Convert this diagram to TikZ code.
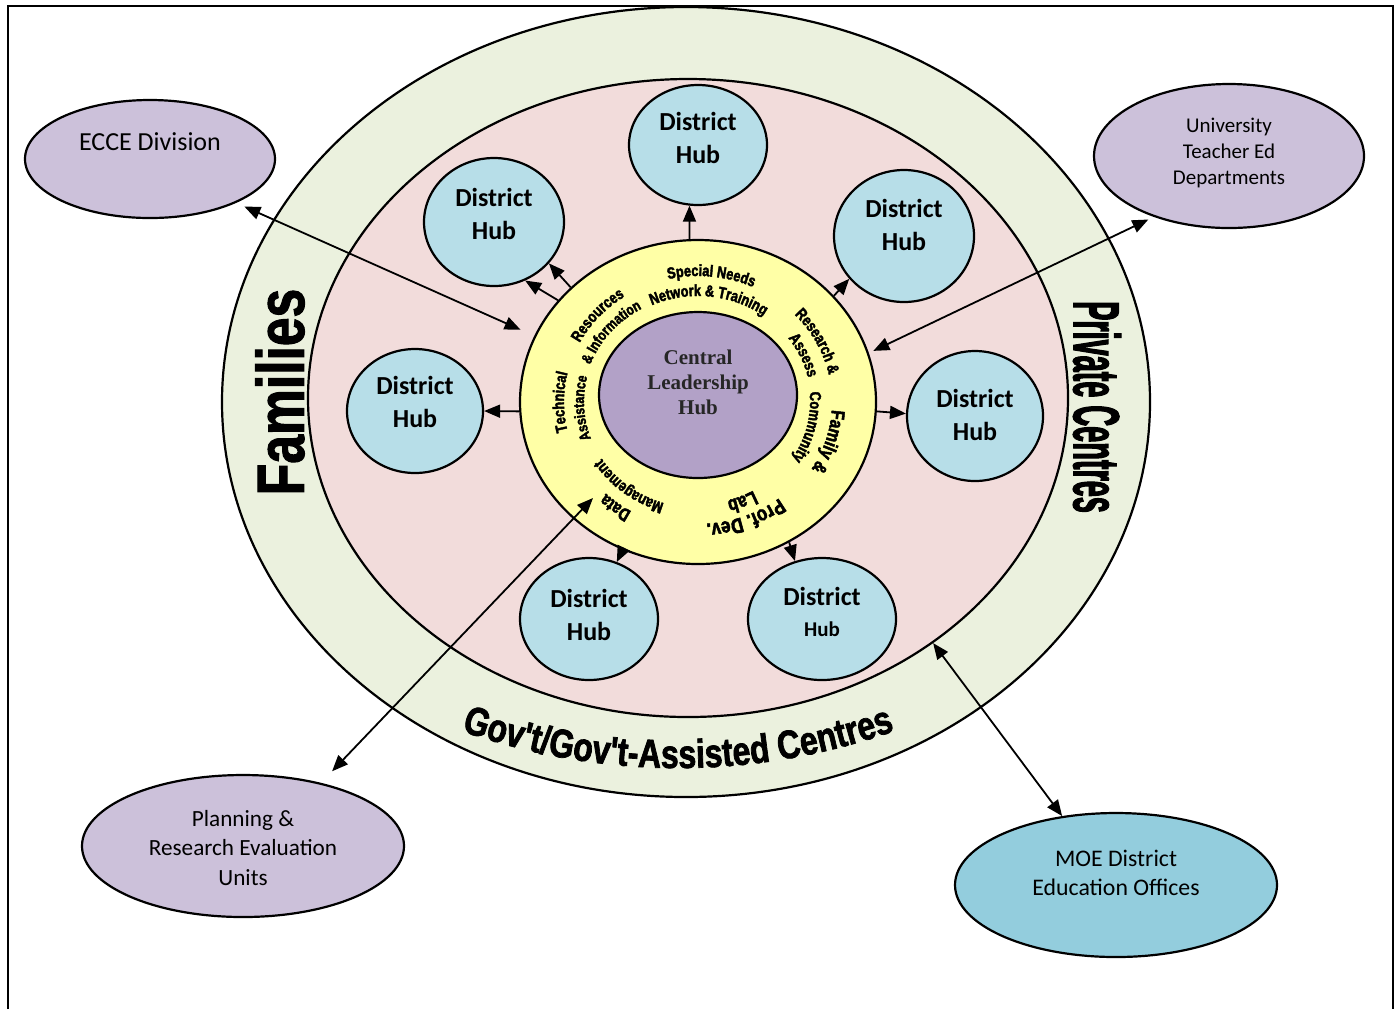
\documentclass[tikz,border=0pt]{standalone}
\usepackage{fontspec}
\setmainfont{Carlito}
\newfontfamily\serifb{Liberation Serif}
\newfontfamily\ringfont[FakeStretch=0.8,FakeBold=2.5]{Liberation Sans Bold}
\newfontfamily\famfont[FakeStretch=0.77,FakeBold=1.5]{Liberation Sans Bold}
\newfontfamily\privfont[FakeStretch=0.44,FakeBold=1.5]{Liberation Sans Bold}
\newfontfamily\govfont[FakeStretch=0.8,FakeBold=1.8]{Liberation Sans Bold}
\usetikzlibrary{shapes.geometric,arrows.meta,decorations.text}
\definecolor{greenring}{HTML}{EBF1DE}
\definecolor{pinkring}{HTML}{F2DCDB}
\definecolor{yellowring}{HTML}{FFFFA6}
\definecolor{centralc}{HTML}{B2A1C7}
\definecolor{hubc}{HTML}{B7DEE8}
\definecolor{lilac}{HTML}{CCC1DA}
\definecolor{moec}{HTML}{93CDDD}
\newcommand\ringtext[5]{%
  \path[decorate,decoration={text along path,text align=center,
     text={|\ringfont\fontsize{#4}{#4}\selectfont|#5}}]
   (698,402) ++({-(#1)-70}:#2 and #3)
   arc[start angle={-(#1)-70}, end angle={-(#1)+70}, x radius=#2, y radius=#3];}
\tikzset{
  ell/.style={ellipse, draw, line width=1.1pt, inner sep=0pt},
  hub/.style={ell, fill=hubc},
  hubtext/.style={font=\fontsize{13}{16.5}\selectfont\bfseries, align=center, inner sep=0pt},
  arr/.style={-{Triangle[length=8pt,width=6.5pt]}, line width=0.9pt},
  darr/.style={{Triangle[length=8pt,width=6.5pt]}-{Triangle[length=8pt,width=6.5pt]}, line width=0.9pt}
}
\begin{document}
\begin{tikzpicture}[x=0.5pt,y=-0.5pt]
\useasboundingbox (0,0) rectangle (1400,1009);
\draw[line width=1pt] (8,1009) -- (8,6) -- (1393,6) -- (1393,1009);

% rings
\node[ell, fill=greenring, minimum width=464pt, minimum height=395pt] (green) at (686,402) {};
\node[ell, fill=pinkring, minimum width=380pt, minimum height=319pt] (pink) at (688,398) {};
\node[ell, fill=yellowring, minimum width=178pt, minimum height=162pt] (ring) at (698,402) {};
\node[ell, fill=centralc, minimum width=99pt, minimum height=83pt] (central) at (698,395) {};
\node[font=\serifb\bfseries\fontsize{10.5}{12.5}\selectfont, text=black!85, align=center, inner sep=0pt] (centralt) at (698,382) {Central\\Leadership\\Hub};

% hubs
\node[hub, minimum width=69pt, minimum height=60pt] (h1) at (698,145) {};
\node[hub, minimum width=70pt, minimum height=64pt] (h2) at (494,222) {};
\node[hub, minimum width=70pt, minimum height=66pt] (h3) at (904,236) {};
\node[hub, minimum width=68pt, minimum height=62pt] (h4) at (415,411) {};
\node[hub, minimum width=68pt, minimum height=65pt] (h5) at (975,416) {};
\node[hub, minimum width=69pt, minimum height=61pt] (h6) at (589,619) {};
\node[hub, minimum width=74pt, minimum height=61pt] (h7) at (822,619) {};
\node[hubtext] (h1t) at (698,137.5) {District\\Hub};
\node[hubtext] (h2t) at (494,214) {District\\Hub};
\node[hubtext] (h3t) at (904,224.5) {District\\Hub};
\node[hubtext] (h4t) at (415,402) {District\\Hub};
\node[hubtext] (h5t) at (975,415) {District\\Hub};
\node[hubtext] (h6t) at (589,614.5) {District\\Hub};
\node[hubtext] (h7t) at (822,611.5) {District\\[-1pt]{\fontsize{10.5}{13}\selectfont Hub}};

% outer partners
\node[ell, fill=lilac, minimum width=125pt, minimum height=59pt] (ecce) at (150,159) {};
\node[ell, fill=lilac, minimum width=135pt, minimum height=72pt] (univ) at (1229,156) {};
\node[ell, fill=lilac, minimum width=161pt, minimum height=71pt] (plan) at (243,846) {};
\node[ell, fill=moec, minimum width=161pt, minimum height=72pt] (moe) at (1116,885) {};
\node[font=\fontsize{13}{16}\selectfont, inner sep=0pt] (eccet) at (150,142) {ECCE Division};
\node[font=\fontsize{10.5}{13}\selectfont, align=center, inner sep=0pt] (univt) at (1229,153) {University\\Teacher Ed\\Departments};
\node[font=\fontsize{11.6}{14.75}\selectfont, align=center, inner sep=0pt] (plant) at (243,848) {Planning \&\\Research Evaluation\\Units};
\node[font=\fontsize{11.9}{14.5}\selectfont, align=center, inner sep=0pt] (moet) at (1116,872.5) {MOE District\\Education Offices};

% sector labels
\node[rotate=90, font=\famfont\fontsize{33.5}{33.5}\selectfont, inner sep=0pt] (families) at (280,392) {Families};
\node[rotate=-90, font=\privfont\fontsize{32.8}{32.8}\selectfont, inner sep=0pt] (private) at (1097,407) {Private Centres};
\path[decorate,decoration={text along path,text align=center,
   text={|\govfont\fontsize{20}{20}\selectfont|Gov't/Gov't-Assisted Centres}}]
   (678,118) ++(120:650) arc[start angle=120,end angle=60,radius=650];

% ring texts
\ringtext{84}{134}{126}{8}{Special Needs}
\ringtext{84}{113}{106}{8}{Network {\&} Training}
\ringtext{139}{134}{126}{8}{Resources}
\ringtext{141}{115}{107}{7.5}{{\&} Information}
\ringtext{180}{134}{126}{8}{Technical}
\ringtext{183}{114}{106}{7.5}{Assistance}
\ringtext{232}{134}{126}{9}{Data}
\ringtext{231}{114}{106}{8}{Management}
\ringtext{292}{132}{122}{10.5}{Prof. Dev.}
\ringtext{294}{112}{102}{10}{Lab}
\ringtext{343}{134}{126}{9.5}{Family {\&}}
\ringtext{347}{112}{104}{8}{Community}
\ringtext{27}{134}{126}{8}{Research {\&}}
\ringtext{24}{113}{106}{8}{Assess}

% hub arrows
\draw[arr] (ring.93) -- (h1.262);
\draw[arr] (ring.144) -- (h2.-62);
\draw[arr] (ring.138) -- (h2.-37);
\draw[arr] (ring.38) -- (h3.218);
\draw[arr] (ring.183) -- (h4.east);
\draw[arr] (ring.-3) -- (h5.178);
\draw[arr] (ring.243) -- (h6.64);
\draw[arr] (ring.-57) -- (h7.115);

% partner arrows
\coordinate (dataTip) at (593,498);
\draw[darr, shorten <=4.5pt, shorten >=7.5pt] (ecce.-27) -- (ring.158);
\draw[darr, shorten <=3pt, shorten >=2.5pt] (univ.219) -- (ring.16);
\draw[darr, shorten <=8pt] (plan.39) -- (dataTip);
\draw[darr] (moe.128) -- (pink.-45);
\end{tikzpicture}
\end{document}
